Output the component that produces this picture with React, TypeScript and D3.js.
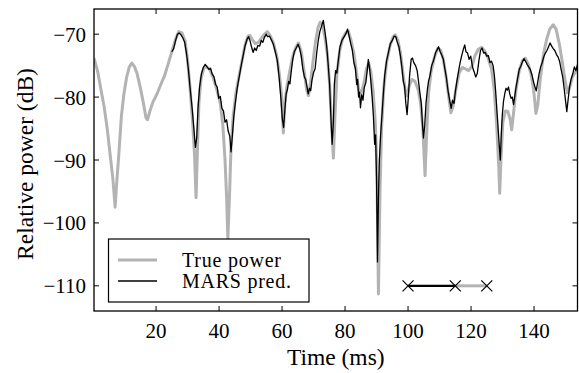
import * as d3 from 'd3';

// Time (ms), relative power (dB)
const truePower: [number, number][] = [
  [0.3, -73.8], [1.5, -76], [2.5, -78.8], [3.5, -81.5], [4.5, -85], [5.5, -89.5], [6.3, -93], [7.0, -97.5],
  [7.6, -93], [8.2, -89], [9, -83], [9.8, -79.5], [10.6, -77], [11.5, -75.2], [12.3, -74.6], [13.2, -75.2],
  [14, -76.3], [15, -78.5], [16, -81], [16.8, -83.3], [17.3, -83.6], [18, -82.3], [19, -80.8], [20.3, -79.5],
  [21.5, -78], [22.7, -76.6], [23.8, -74.8], [25, -72.8], [26.2, -70.8], [27.2, -69.6], [28.2, -69.8],
  [29.2, -71], [30, -74], [30.8, -78.6], [31.6, -84], [32.2, -89], [32.7, -96], [33.1, -89], [33.6, -81],
  [34.3, -77], [35.2, -75.4], [35.8, -75.1], [37, -75.6], [38.2, -77], [39.4, -79], [40.4, -81], [41.2, -84.5],
  [41.9, -90], [42.4, -96], [42.8, -102.5], [43.3, -96], [43.8, -88], [44.5, -83], [45.3, -79.5], [46.2, -77],
  [47.2, -74.5], [48.2, -71.8], [49.2, -70.3], [49.8, -70.2], [50.6, -70.9], [51.5, -71.5], [52.5, -71.3],
  [53.5, -70.6], [54.6, -69.9], [55.3, -69.6], [56.2, -70.2], [57.2, -71.3], [58.3, -73.4], [59.2, -76.5],
  [59.9, -80], [60.4, -85.7], [60.9, -81], [61.5, -78.4], [62.5, -75.8], [63.4, -73.5], [64.3, -72.2],
  [65.2, -71.4], [66.1, -72.8], [67, -75.8], [67.8, -78.8], [68.4, -79.8], [69.1, -77.5], [69.8, -74.5],
  [70.6, -71.3], [71.4, -69], [72.1, -68.1], [72.8, -68.5], [73.6, -70.5], [74.4, -73.2], [75.1, -78],
  [75.7, -84], [76.3, -89.7], [76.8, -83], [77.4, -76.5], [78.3, -72.6], [79.3, -70.6], [80.2, -69.8],
  [81, -69.5], [81.8, -70.8], [82.8, -73], [83.6, -76], [84.3, -78.8], [85.2, -79.3], [86, -77.8],
  [86.8, -75.5], [87.5, -74.6], [88.2, -76], [88.9, -79], [89.6, -84], [90.1, -91], [90.6, -111.3],
  [91.1, -95], [91.6, -85], [92.3, -78.5], [93.2, -74.5], [94.3, -71.8], [95.2, -70.5], [95.9, -70.1],
  [96.8, -71], [97.6, -73], [98.4, -76.3], [99.2, -79.2], [99.7, -79.8], [100.4, -78.2], [101.2, -77.2],
  [102.2, -77.5], [103.2, -78.8], [104, -81], [104.7, -85], [105.4, -92.5], [105.9, -86], [106.5, -79.5],
  [107.3, -76], [108.3, -73.8], [109.4, -72.3], [110.3, -72.5], [111.2, -74], [112, -76.5], [112.8, -79.5],
  [113.6, -82.5], [114.3, -81.5], [115.2, -78.8], [116.2, -76.2], [117.2, -75.3], [118.2, -75.5],
  [119.2, -75.8], [120.3, -75.1], [121.2, -73.5], [122.3, -72.4], [123.4, -72.1], [124.4, -72.7],
  [125.4, -73.8], [126.5, -75.5], [127.4, -79], [128.2, -85], [128.8, -91], [129.1, -95.3], [129.5, -90],
  [130.1, -84], [130.9, -82.2], [131.7, -82.3], [132.4, -83.5], [132.9, -85.2], [133.5, -82.5],
  [134.3, -78.8], [135.3, -75.8], [136.3, -74.2], [137.2, -73.8], [138.2, -74.8], [139.1, -76.5],
  [139.9, -79], [140.6, -82.6], [141.2, -81.2], [142, -77], [143, -73.2], [144, -70.8], [145, -69.2],
  [146.1, -68.5], [147, -69.2], [148, -71.5], [149, -74.5], [149.9, -77.5], [150.6, -79.3], [151.3, -78.5],
  [152.2, -76.8], [153.8, -75.5],
];

const marsPred: [number, number][] = [
  [25, -72.8], [25.6, -72.3], [26.2, -71], [26.8, -70], [27.3, -69.8], [27.9, -70.1], [28.5, -70.6],
  [29.1, -71.3], [29.7, -73.2], [30.3, -75.8], [30.9, -79], [31.5, -82], [32, -85], [32.5, -88],
  [32.9, -86.5], [33.3, -82], [33.8, -78.5], [34.4, -76.3], [35, -75.3], [35.6, -74.8], [36.2, -75.2],
  [36.8, -75.6], [37.3, -75.4], [37.8, -76.3], [38.4, -76.8], [38.9, -78], [39.4, -78.4], [39.9, -80.2],
  [40.4, -79.9], [40.9, -81.8], [41.4, -82.2], [41.9, -84], [42.4, -83.6], [42.9, -85.4], [43.4, -86.2],
  [43.8, -88.7], [44.2, -86.3], [44.7, -83], [45.2, -80.8], [45.8, -78.5], [46.4, -76.8], [47.1, -74.8],
  [47.7, -73.3], [48.3, -71.8], [48.9, -70.8], [49.4, -70.4], [49.8, -71], [50.3, -72], [50.8, -72.9],
  [51.3, -72.2], [51.8, -72.6], [52.3, -71.8], [52.9, -71.9], [53.4, -71], [53.9, -71.3], [54.4, -70.5],
  [55, -70], [55.4, -70.4], [56, -70.3], [56.6, -70.9], [57.3, -71.7], [57.9, -72.9], [58.5, -74.2],
  [59.1, -77], [59.6, -80], [60.1, -83.5], [60.5, -84.8], [60.9, -82], [61.3, -79.5], [61.7, -78.8],
  [62.1, -77.5], [62.5, -77.9], [62.9, -76], [63.4, -74], [63.9, -72.8], [64.5, -72.2], [65.1, -71.6],
  [65.6, -72.3], [66.1, -73.5], [66.6, -75.5], [67.1, -76.8], [67.5, -77.2], [67.9, -78.3], [68.3, -79.5],
  [68.7, -78.6], [69.1, -79], [69.5, -77.3], [70, -76.1], [70.5, -75.5], [71, -73], [71.5, -71], [72, -69.6],
  [72.5, -68.8], [73.1, -67.8], [73.6, -69.5], [74.1, -71.5], [74.6, -74.5], [75.1, -78], [75.5, -83],
  [75.9, -87.5], [76.3, -84], [76.6, -78], [77, -75.8], [77.4, -76.2], [77.9, -74], [78.4, -72], [79, -71],
  [79.6, -70.5], [80.2, -70], [80.8, -69.2], [81.3, -70.3], [81.8, -71.5], [82.3, -72.5], [82.8, -74.5],
  [83.3, -75.5], [83.7, -78], [84, -77.2], [84.3, -80], [84.6, -79.2], [84.9, -81.7], [85.3, -79.6],
  [85.7, -80.5], [86.1, -78.5], [86.6, -77.7], [87, -76], [87.4, -74], [87.8, -75.5], [88.2, -77.5],
  [88.6, -80], [89, -83], [89.4, -87.5], [89.7, -86], [90, -93], [90.3, -106.2], [90.6, -96], [90.9, -90],
  [91.3, -86], [91.7, -83], [92.1, -80], [92.6, -76.5], [93.2, -74.2], [93.8, -72.8], [94.4, -71.5],
  [95, -71], [95.6, -70.3], [96.1, -70.4], [96.6, -71.3], [97.1, -72], [97.6, -73.5], [98.1, -75.5],
  [98.5, -77.5], [98.9, -78.3], [99.3, -81], [99.7, -82.8], [100.1, -80], [100.5, -76.5], [101, -74],
  [101.4, -73.8], [101.9, -74.6], [102.4, -75], [102.9, -75.8], [103.4, -77.8], [103.8, -79.5], [104.2, -81],
  [104.6, -84.5], [104.9, -86.5], [105.3, -84.5], [105.7, -81], [106.1, -79], [106.5, -77.5], [107, -76.5],
  [107.5, -75], [108.1, -74.2], [108.7, -73], [109.2, -72.5], [109.7, -72], [110.2, -72.8], [110.7, -73.3],
  [111.2, -74], [111.7, -75.5], [112.2, -77], [112.7, -79], [113.2, -80.5], [113.7, -81.8], [114.1, -80.5],
  [114.6, -81], [115, -79.2], [115.5, -77.5], [116, -76], [116.5, -74.6], [117, -73.5], [117.5, -72.5],
  [118, -71.7], [118.4, -72.8], [118.9, -73], [119.4, -74], [119.9, -73.5], [120.5, -75.3], [121, -76],
  [121.5, -76.8], [122, -76.2], [122.5, -74.2], [123, -72.6], [123.5, -72.2], [124, -73], [124.5, -72.9],
  [125, -73.5], [125.5, -73.4], [126, -74.5], [126.5, -74.3], [127, -75], [127.4, -76.5], [127.8, -79],
  [128.2, -82], [128.6, -85], [129, -88], [129.3, -90], [129.6, -86], [129.9, -83], [130.3, -80.7],
  [130.7, -79.5], [131.1, -78.6], [131.5, -78.9], [131.9, -78.4], [132.3, -79.5], [132.7, -80.2],
  [133.1, -80], [133.5, -81.2], [133.9, -79.8], [134.3, -78.4], [134.8, -77], [135.3, -75.6], [135.8, -75.1],
  [136.3, -74.4], [136.8, -73.9], [137.3, -74.3], [137.8, -74.8], [138.3, -75.2], [138.8, -75.6],
  [139.3, -76.4], [139.8, -77.5], [140.3, -78.4], [140.7, -79], [141.1, -77.8], [141.6, -76.3],
  [142.1, -75.2], [142.6, -74.5], [143.1, -73.6], [143.6, -73], [144.1, -72.6], [144.6, -72], [145.1, -71.4],
  [145.6, -71.9], [146.1, -72.3], [146.6, -72.6], [147.1, -73.2], [147.6, -73.6], [148.1, -74.3],
  [148.6, -75.6], [149.1, -76.8], [149.6, -78.8], [150.1, -81], [150.4, -82.3], [150.8, -80.5],
  [151.3, -78.3], [151.8, -77.1], [152.3, -76.3], [152.8, -75.2], [153.3, -75.8], [153.8, -74.8],
];

// window markers at the bottom of the plot
const windowLevel = -110;
const trainSpan = [100, 115];
const testSpan = [115, 125];
const markerTimes = [100, 115, 125];

const xTicks = [20, 40, 60, 80, 100, 120, 140];
const yTicks = [-110, -100, -90, -80, -70];
const legendLabels = ['True power', 'MARS pred.'];

const GRAY = '#b3b3b3';
const FONT = '"Liberation Serif", "Times New Roman", serif';

export default function App() {
  const width = 579;
  const height = 373;
  const box = { left: 94, right: 577.5, top: 9, bottom: 311 };

  const x = d3.scaleLinear().domain([0.3, 153.8]).range([box.left, box.right]);
  const y = d3.scaleLinear().domain([-114, -66]).range([box.bottom, box.top]);

  const line = d3.line<[number, number]>()
    .x((d) => x(d[0]))
    .y((d) => y(d[1]));

  const fmt = (v: number) => String(v).replace('-', '\u2212');
  const tickLen = 5;
  const cross = 5.5;

  const leg = { x: 108.5, y: 239, w: 200.5, h: 63 };

  return (
    <div style={{ position: 'absolute', left: 0, top: 0 }}>
      <svg width={width} height={height} style={{ display: 'block', background: '#fff' }}>
        <defs>
          <clipPath id="plot-clip">
            <rect x={box.left} y={box.top} width={box.right - box.left} height={box.bottom - box.top} />
          </clipPath>
        </defs>

        <g clipPath="url(#plot-clip)">
          <path d={line(truePower) ?? ''} fill="none" stroke={GRAY} strokeWidth={3} strokeLinejoin="round" />
          <path d={line(marsPred) ?? ''} fill="none" stroke="#000" strokeWidth={1.3} strokeLinejoin="round" />

          <line x1={x(testSpan[0])} x2={x(testSpan[1])} y1={y(windowLevel)} y2={y(windowLevel)}
            stroke={GRAY} strokeWidth={3} />
          <line x1={x(trainSpan[0])} x2={x(trainSpan[1])} y1={y(windowLevel)} y2={y(windowLevel)}
            stroke="#000" strokeWidth={2.2} />
          {markerTimes.map((t) => (
            <path key={t}
              d={`M${x(t) - cross},${y(windowLevel) - cross}L${x(t) + cross},${y(windowLevel) + cross}` +
                `M${x(t) - cross},${y(windowLevel) + cross}L${x(t) + cross},${y(windowLevel) - cross}`}
              stroke="#000" strokeWidth={1.2} fill="none" />
          ))}
        </g>

        {/* ticks on all four sides */}
        {xTicks.map((t) => (
          <g key={`x${t}`}>
            <line x1={x(t)} x2={x(t)} y1={box.bottom} y2={box.bottom - tickLen} stroke="#000" strokeWidth={1} />
            <line x1={x(t)} x2={x(t)} y1={box.top} y2={box.top + tickLen} stroke="#000" strokeWidth={1} />
            <text x={x(t)} y={338} textAnchor="middle" fontFamily={FONT} fontSize={21}>{fmt(t)}</text>
          </g>
        ))}
        {yTicks.map((t) => (
          <g key={`y${t}`}>
            <line x1={box.left} x2={box.left + tickLen} y1={y(t)} y2={y(t)} stroke="#000" strokeWidth={1} />
            <line x1={box.right} x2={box.right - tickLen} y1={y(t)} y2={y(t)} stroke="#000" strokeWidth={1} />
            <text x={86} y={y(t) + 7.5} textAnchor="end" fontFamily={FONT} fontSize={21}>{fmt(t)}</text>
          </g>
        ))}

        <rect x={box.left} y={box.top} width={box.right - box.left} height={box.bottom - box.top}
          fill="none" stroke="#000" strokeWidth={1.3} />

        {/* legend */}
        <rect x={leg.x} y={leg.y} width={leg.w} height={leg.h} fill="#fff" stroke="#000" strokeWidth={1.2} />
        <line x1={118} x2={157} y1={260} y2={260} stroke={GRAY} strokeWidth={3} />
        <line x1={118} x2={157} y1={281} y2={281} stroke="#000" strokeWidth={1.3} />
        <text x={182} y={266.5} fontFamily={FONT} fontSize={20} textLength={99}>{legendLabels[0]}</text>
        <text x={182} y={288} fontFamily={FONT} fontSize={20} textLength={109}>{legendLabels[1]}</text>

        <text x={(box.left + box.right) / 2} y={365} textAnchor="middle" fontFamily={FONT} fontSize={23.5}>
          Time (ms)
        </text>
        <text transform={`translate(33, 164) rotate(-90)`} textAnchor="middle" fontFamily={FONT} fontSize={23.5}>
          Relative power (dB)
        </text>
      </svg>
    </div>
  );
}
